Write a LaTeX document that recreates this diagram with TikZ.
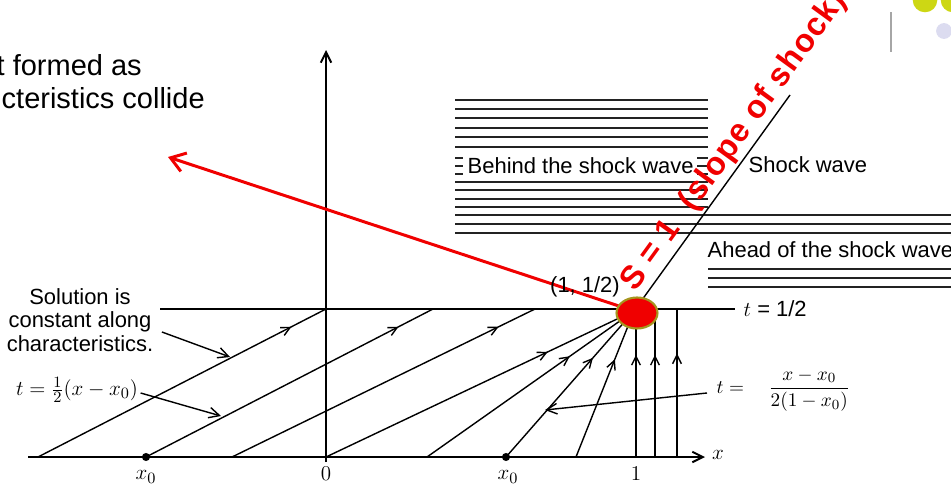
\documentclass[tikz,border=0pt]{standalone}
\usepackage{amsmath}
\usepackage{fontspec}
\setmainfont{Liberation Sans}
\usetikzlibrary{arrows.meta,decorations.markings,shapes.geometric}
\definecolor{cshock}{RGB}{240,0,0}
\definecolor{cring}{RGB}{165,150,30}
\definecolor{chatch}{RGB}{35,35,35}
\definecolor{cdotyel}{RGB}{205,215,20}
\definecolor{cdotlav}{RGB}{220,220,240}

\begin{document}
\begin{tikzpicture}[x=0.02cm, y=-0.02cm, line width=0.8pt,
  label/.style={font=\fontsize{12.5}{13.4}\selectfont, inner sep=0pt},
  slide/.style={font=\fontsize{16.5}{18.8}\selectfont, inner sep=0pt, anchor=west},
  hatch/.style={line width=1pt, chatch},
  barb/.style={-{Straight Barb[length=6pt,width=6pt]}},
  midarrow/.style={postaction={decorate, decoration={markings,
    mark=at position #1 with {\arrow{Straight Barb[length=5pt,width=5pt]}}}}},
  blob/.style={ellipse, draw=cring, fill=cshock, line width=1.2pt,
    minimum width=0.82cm, minimum height=0.62cm, inner sep=0pt}]
\useasboundingbox (0,0) rectangle (951,490);

% slide text and corner marks
\node[slide] (head1) at (-4,65) {t formed as};
\node[slide] (head2) at (1,98) {cteristics collide};
\draw[gray!70, line width=1.2pt] (891,12) -- (891,52);
\fill[cdotyel] (925,0) circle[radius=7pt];
\fill[cdotyel] (953,0) circle[radius=7pt];
\fill[cdotlav] (944,31) circle[radius=4.5pt];

% hatched regions
\foreach \y in {100,109,118,128,137,147,182,190,199,207}
  \draw[hatch] (455,\y) -- (708,\y);
\foreach \y in {215,224,233}
  \draw[hatch] (455,\y) -- (951,\y);
\foreach \y in {269,278,287}
  \draw[hatch] (708,\y) -- (951,\y);
\foreach \y in {158,166,174} {
  \draw[hatch] (455,\y) -- (463,\y);
  \draw[hatch] (697,\y) -- (708,\y);
}
\node[label, anchor=west] (behind) at (467,166) {Behind the shock wave};
\node[label, anchor=west] (shockwave) at (748,165) {Shock wave};
\node[label, anchor=west] (ahead) at (707,250) {Ahead of the shock wave};

% axes
\draw[line width=1.1pt, barb] (28,457) -- (705,457);
\draw[line width=1.1pt, barb] (326,462) -- (326,50);
\node[label] (xlab) at (718,455) {$x$};
\fill (146,457) circle[radius=2.3pt];
\fill (506,457) circle[radius=2.3pt];
\node[label] (lx0a) at (146,477) {$x_0$};
\node[label] (lzero) at (326,474) {$0$};
\node[label] (lx0b) at (508,477) {$x_0$};
\node[label] (lone) at (636,474) {$1$};

% line t = 1/2
\draw (160,309) -- (735,309);
\node[label, anchor=west] (thalf) at (743,309) {$t$ = 1/2};

% characteristics
\coordinate (focus) at (634,311);
\foreach \xa/\xb in {38/326, 146/433, 232/535}
  \draw[midarrow=0.88] (\xa,457) -- (\xb,309);
\foreach \xa/\p in {326/0.72, 427/0.69, 506/0.68, 576/0.67}
  \draw[midarrow=\p] (\xa,457) -- (focus);
\foreach \xa in {636,655}
  \draw[midarrow=0.7] (\xa,457) -- (\xa,311);
\draw[midarrow=0.7] (677,457) -- (677,309);

% shock
\coordinate (shocktop) at (790,95);
\coordinate (tip) at (168,157);
\draw (focus) -- (shocktop);
\draw[cshock, line width=1.7pt, -{Straight Barb[length=8pt,width=11pt]}] (focus) -- (tip);
\node[blob] (spot) at (637,313) {};
\node[font=\fontsize{18.5}{19}\selectfont\bfseries\addfontfeature{LetterSpace=3},
  text=cshock, rotate=54, anchor=mid west, inner sep=0pt] (slope) at (631,290)
  {S = 1 \ (slope of shock)};
\node[label] (point) at (585,287) {(1, 1/2)};

% labels
\node[label, align=center] (sol) at (80,320) {Solution is\\constant along\\characteristics.};
\coordinate (c1) at (230,357);
\draw[barb] ([shift={(8,12)}]sol.east) -- (c1);
\node[label] (eqleft) at (77,390) {$t=\frac{1}{2}(x-x_0)$};
\coordinate (c2) at (221,416);
\draw[barb] ([shift={(2,3)}]eqleft.east) -- (c2);
\node[font=\fontsize{11}{13}\selectfont, anchor=west, inner sep=0pt] (eqright) at (716,390)
  {$t = \quad \dfrac{x - x_0}{2(1 - x_0)}$};
\coordinate (c3) at (545,410);
\draw[barb] ([shift={(-9,3)}]eqright.west) -- (c3);
\end{tikzpicture}
\end{document}
